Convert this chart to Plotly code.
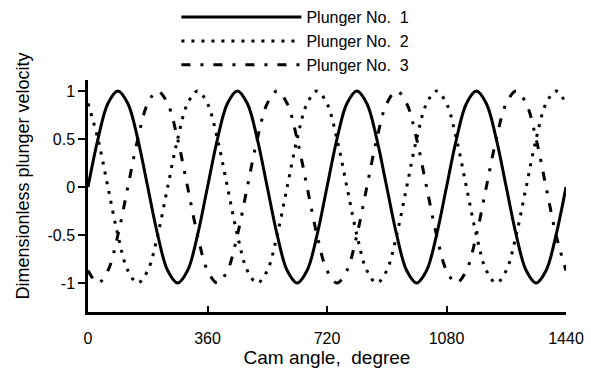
import plotly.graph_objects as go

# Cam angle samples (degree)
cam_angle = [0, 30, 60, 90, 120, 150, 180, 210, 240, 270, 300, 330,
             360, 390, 420, 450, 480, 510, 540, 570, 600, 630, 660, 690,
             720, 750, 780, 810, 840, 870, 900, 930, 960, 990, 1020, 1050,
             1080, 1110, 1140, 1170, 1200, 1230, 1260, 1290, 1320, 1350, 1380, 1410,
             1440]

plunger_1 = [0, 0.5, 0.87, 1, 0.87, 0.5, 0, -0.5, -0.87, -1, -0.87, -0.5,
             0, 0.5, 0.87, 1, 0.87, 0.5, 0, -0.5, -0.87, -1, -0.87, -0.5,
             0, 0.5, 0.87, 1, 0.87, 0.5, 0, -0.5, -0.87, -1, -0.87, -0.5,
             0, 0.5, 0.87, 1, 0.87, 0.5, 0, -0.5, -0.87, -1, -0.87, -0.5,
             0]

plunger_2 = [0.87, 0.5, 0, -0.5, -0.87, -1, -0.87, -0.5, 0, 0.5, 0.87, 1,
             0.87, 0.5, 0, -0.5, -0.87, -1, -0.87, -0.5, 0, 0.5, 0.87, 1,
             0.87, 0.5, 0, -0.5, -0.87, -1, -0.87, -0.5, 0, 0.5, 0.87, 1,
             0.87, 0.5, 0, -0.5, -0.87, -1, -0.87, -0.5, 0, 0.5, 0.87, 1,
             0.87]

plunger_3 = [-0.87, -1, -0.87, -0.5, 0, 0.5, 0.87, 1, 0.87, 0.5, 0, -0.5,
             -0.87, -1, -0.87, -0.5, 0, 0.5, 0.87, 1, 0.87, 0.5, 0, -0.5,
             -0.87, -1, -0.87, -0.5, 0, 0.5, 0.87, 1, 0.87, 0.5, 0, -0.5,
             -0.87, -1, -0.87, -0.5, 0, 0.5, 0.87, 1, 0.87, 0.5, 0, -0.5,
             -0.87]

series_names = ["Plunger No.\u00a0 1", "Plunger No.\u00a0 2", "Plunger No.\u00a0 3"]
x_ticks = [0, 360, 720, 1080, 1440]
y_ticks = [-1, -0.5, 0, 0.5, 1]
y_tick_text = ["-1", "-0.5", "0", "0.5", "1"]

FONT = "Liberation Sans, Arial, sans-serif"

fig = go.Figure()
styles = [
    dict(width=3, dash="solid"),
    dict(width=3, dash="3px,7px"),
    dict(width=3, dash="9px,10px,3px,10px"),
]
for name, ys, st in zip(series_names, [plunger_1, plunger_2, plunger_3], styles):
    fig.add_trace(go.Scatter(
        x=cam_angle, y=ys, mode="lines", name=name,
        line=dict(color="black", width=st["width"], dash=st["dash"],
                  shape="spline", smoothing=1.0),
    ))

fig.update_layout(
    width=591, height=370,
    margin=dict(l=88, r=25, t=80, b=58, autoexpand=False),
    paper_bgcolor="white", plot_bgcolor="white",
    font=dict(family=FONT, size=16, color="black"),
    showlegend=True,
    legend=dict(
        x=0.185, y=1.344, xanchor="left", yanchor="top",
        bgcolor="rgba(0,0,0,0)", itemwidth=120,
        font=dict(size=16, family=FONT),
        tracegroupgap=0,
    ),
    xaxis=dict(
        range=[0, 1440], tickvals=x_ticks, ticktext=[str(v) for v in x_ticks],
        showgrid=False, zeroline=False, showline=True, linecolor="black",
        linewidth=2.5, ticks="inside", ticklen=6, tickwidth=2, tickcolor="black",
        ticklabelstandoff=10,
        tickfont=dict(size=16, family=FONT),
        title=dict(text="Cam angle,\u00a0 degree", font=dict(size=19, family=FONT),
                   standoff=5),
    ),
    yaxis=dict(
        range=[-1.302, 1.115], tickvals=y_ticks, ticktext=y_tick_text,
        showgrid=False, zeroline=False, showline=True, linecolor="black",
        linewidth=2.5, ticks="outside", ticklen=7, tickwidth=2, tickcolor="black",
        tickfont=dict(size=16, family=FONT),
    ),
    annotations=[dict(
        text="Dimensionless plunger velocity", textangle=-90,
        xref="paper", yref="paper", x=-0.138, y=0.584,
        xanchor="center", yanchor="middle", showarrow=False,
        font=dict(size=18, family=FONT, color="black"),
    )],
)

fig.write_html("out.html")
